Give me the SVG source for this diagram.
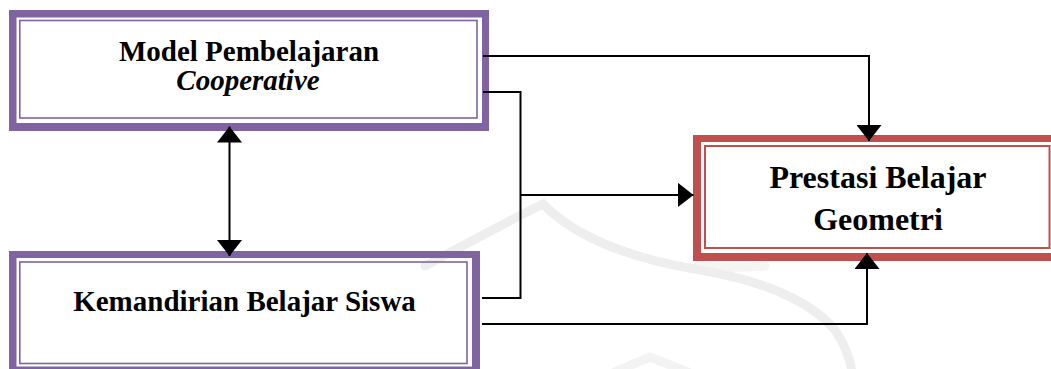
<svg xmlns="http://www.w3.org/2000/svg" width="1051" height="369" viewBox="0 0 1051 369">
  <style>
    .label { font-family: "Liberation Serif", "Times New Roman", serif; font-weight: bold; fill: #000; text-anchor: middle; }
    .purple-band { fill: #8064A2; }
    .purple-line { fill: none; stroke: #8064A2; stroke-width: 1.6; }
    .red-band { fill: #C0504D; }
    .red-line { fill: none; stroke: #C0504D; stroke-width: 2; }
    .wire { fill: none; stroke: #000; stroke-width: 2; stroke-linejoin: miter; }
    .emblem { fill: none; stroke: #eeeeee; stroke-width: 9; stroke-linecap: round; }
  </style>
  <defs>
    <marker id="head" markerUnits="userSpaceOnUse" viewBox="0 0 16 25" markerWidth="16" markerHeight="25" refX="16" refY="12.5" orient="auto-start-reverse">
      <path d="M0,0 L16,12.5 L0,25 Z" fill="#000"/>
    </marker>
  </defs>

  <rect width="1051" height="369" fill="#fff"/>

  <!-- faint background emblem -->
  <g id="emblem">
    <path class="emblem" d="M425,266 Q495,228 543,204 Q590,252 700,270 C760,280 810,300 835,330 C845,345 850,358 852,372"/>
    <path class="emblem" d="M698,266 C720,268 745,268 765,266" stroke-width="6" opacity="0.6"/>
    <path class="emblem" d="M615,372 L650,357 L688,372" stroke-width="6" opacity="0.7"/>
  </g>

  <!-- node: Model Pembelajaran Cooperative -->
  <g id="model">
    <path class="purple-band" fill-rule="evenodd" d="M9,10 H489 V131 H9 Z M16.5,17.5 V123 H482 V17.5 Z"/>
    <rect class="purple-line" x="19.8" y="20.5" width="457.2" height="97.5"/>
    <text class="label" x="249" y="61" font-size="29">Model Pembelajaran</text>
    <text class="label" x="248" y="90" font-size="29" font-style="italic">Cooperative</text>
  </g>

  <!-- node: Kemandirian Belajar Siswa -->
  <g id="kemandirian">
    <path class="purple-band" fill-rule="evenodd" d="M9,251 H480 V375 H9 Z M16.5,258 V366.5 H472 V258 Z"/>
    <rect class="purple-line" x="19.8" y="262" width="447.2" height="101.5"/>
    <text class="label" x="244.5" y="311" font-size="29">Kemandirian Belajar Siswa</text>
  </g>

  <!-- node: Prestasi Belajar Geometri -->
  <g id="prestasi">
    <path class="red-band" fill-rule="evenodd" d="M693,135 H1060 V261 H693 Z M701,142 V253 H1052 V142 Z"/>
    <rect class="red-line" x="705" y="146" width="344.5" height="102"/>
    <text class="label" x="878" y="188" font-size="32">Prestasi Belajar</text>
    <text class="label" x="878" y="230" font-size="32">Geometri</text>
  </g>

  <!-- connectors, drawn over the node borders -->
  <g id="connectors">
    <path class="wire" d="M483,56 H869 V141" marker-end="url(#head)"/>
    <path class="wire" d="M483,92 H520.5 V298 H482"/>
    <path class="wire" d="M520.5,195 H693.5" marker-end="url(#head)"/>
    <path class="wire" d="M482,324 H867 V253" marker-end="url(#head)"/>
    <path class="wire" d="M229.5,126.5 V256" marker-start="url(#head)" marker-end="url(#head)"/>
  </g>
</svg>
